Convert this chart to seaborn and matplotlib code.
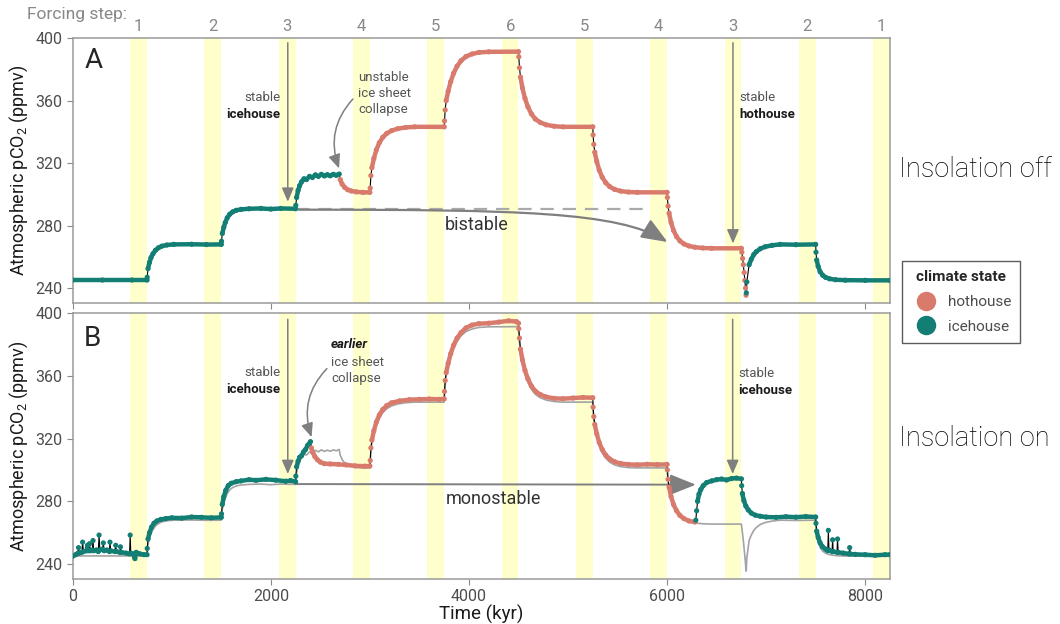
import numpy as np
import pandas as pd
import matplotlib.pyplot as plt
from matplotlib.lines import Line2D
from matplotlib.patches import FancyArrowPatch
from matplotlib.path import Path
import seaborn as sns

sns.set_style("white")
plt.rcParams['font.family'] = ['Roboto', 'DejaVu Sans']
plt.rcParams['mathtext.fontset'] = 'custom'
plt.rcParams['mathtext.rm'] = 'Roboto'

HOT = "#D97B6C"
ICE = "#137E74"
BAND = "#FFFFCC"
GREY = "#7F7F7F"

# forcing steps (end of each step, kyr) and labels
step_ends = [750, 1500, 2250, 3000, 3750, 4500, 5250, 6000, 6750, 7500, 8250]
step_labels = ['1', '2', '3', '4', '5', '6', '5', '4', '3', '2', '1']
band_width = 170

# panel A: insolation off
a_time = [0, 300, 600, 750, 752, 760, 775, 790, 810, 835, 865, 900, 950, 1020, 1200, 1350, 1500,
          1502, 1510, 1525, 1540, 1560, 1585, 1615, 1650, 1700, 1780, 1900, 2000, 2100, 2250,
          2252, 2260, 2275, 2290, 2310, 2335, 2360, 2390, 2420, 2450, 2480, 2510, 2540, 2570, 2600, 2630, 2660, 2690,
          2700, 2720, 2745, 2775, 2810, 2860, 2930, 3000,
          3003, 3010, 3020, 3040, 3065, 3095, 3130, 3170, 3220, 3280, 3360, 3450, 3750,
          3753, 3760, 3770, 3790, 3815, 3845, 3880, 3920, 3970, 4030, 4100, 4200, 4500,
          4503, 4510, 4520, 4540, 4565, 4595, 4630, 4670, 4720, 4780, 4860, 4950, 5250,
          5253, 5260, 5270, 5290, 5315, 5345, 5380, 5420, 5470, 5530, 5610, 5700, 6000,
          6003, 6010, 6020, 6040, 6065, 6095, 6130, 6170, 6220, 6280, 6360, 6450, 6750,
          6755, 6762, 6770, 6778, 6785, 6792, 6797,
          6800, 6805, 6828, 6850, 6875, 6900, 6940, 6990, 7060, 7140, 7300, 7500,
          7503, 7510, 7525, 7545, 7570, 7600, 7640, 7700, 7800, 8000, 8250]
a_co2 = [245.2, 245.2, 245.2, 245.2, 247.0, 252.5, 256.5, 259.5, 262.0, 264.2, 265.8, 266.9, 267.6, 268.0, 268.1, 267.9, 268.0,
         270.0, 275.0, 279.0, 282.0, 285.0, 287.3, 288.8, 289.8, 290.4, 290.8, 291.0, 290.6, 291.0, 290.8,
         293.0, 298.0, 302.5, 305.5, 308.0, 310.0, 309.5, 311.5, 310.8, 312.5, 311.5, 312.8, 311.8, 312.6, 311.9, 312.8, 312.2, 313.0,
         309.5, 306.5, 304.5, 303.0, 302.2, 301.6, 301.3, 301.3,
         304.0, 312.0, 317.0, 323.0, 328.5, 333.0, 336.5, 339.0, 340.8, 342.0, 342.8, 343.2, 343.2,
         347.0, 354.0, 360.0, 366.0, 372.0, 377.5, 382.0, 385.5, 388.2, 389.8, 390.8, 391.2, 391.3,
         388.0, 381.0, 375.0, 368.0, 361.5, 356.0, 351.5, 348.2, 346.0, 344.5, 343.6, 343.2, 343.2,
         338.0, 332.0, 327.0, 321.0, 315.5, 311.0, 307.5, 305.0, 303.2, 302.1, 301.5, 301.3, 301.3,
         298.0, 292.5, 288.0, 282.0, 277.0, 273.0, 270.2, 268.3, 267.0, 266.2, 265.7, 265.5, 265.5,
         263.0, 259.0, 255.0, 250.0, 245.0, 240.0, 235.5,
         237.0, 244.0, 255.0, 258.5, 261.5, 263.3, 265.2, 266.5, 267.4, 268.0, 267.8, 268.0,
         263.0, 258.0, 254.0, 250.5, 248.3, 246.9, 246.0, 245.4, 245.1, 245.0, 245.0]
a_collapse, a_regrowth = 2690, 6800

# panel B: insolation on
b_time = [0, 30, 50, 59, 66, 92, 100, 108, 140, 150, 158, 170, 178, 198, 205, 212, 240, 258, 266, 274,
          300, 309, 317, 345, 370, 376, 384, 425, 434, 442, 475, 482, 490, 540, 574, 580, 586, 610, 628, 640,
          680, 720, 750,
          752, 760, 775, 795, 820, 850, 890, 940, 1000, 1100, 1200, 1300, 1400, 1500,
          1502, 1510, 1525, 1545, 1570, 1600, 1650, 1700, 1780, 1850, 1950, 2050, 2150, 2200, 2250,
          2252, 2260, 2275, 2290, 2310, 2330, 2350, 2370, 2385, 2400,
          2410, 2425, 2445, 2470, 2500, 2540, 2600, 2680, 2760, 2850, 2950, 3000,
          3003, 3010, 3020, 3040, 3065, 3095, 3130, 3170, 3220, 3300, 3400, 3500, 3600, 3700, 3750,
          3753, 3760, 3770, 3790, 3815, 3845, 3880, 3920, 3970, 4030, 4100, 4200, 4300, 4400, 4480, 4500,
          4503, 4510, 4520, 4540, 4565, 4595, 4630, 4670, 4720, 4780, 4860, 4950, 5050, 5150, 5250,
          5253, 5260, 5270, 5290, 5315, 5345, 5380, 5420, 5470, 5530, 5610, 5700, 5800, 5900, 6000,
          6003, 6010, 6020, 6040, 6065, 6095, 6130, 6170, 6220, 6280,
          6290, 6298, 6308, 6322, 6340, 6365, 6400, 6450, 6500, 6550, 6600, 6650, 6700, 6750,
          6753, 6760, 6775, 6795, 6820, 6850, 6890, 6940, 7000, 7100, 7200, 7300, 7400, 7500,
          7503, 7510, 7525, 7545, 7570, 7600, 7622, 7628, 7634, 7665, 7671, 7677, 7715, 7721, 7727,
          7780, 7837, 7843, 7849, 7900, 8000, 8100, 8200, 8250]
b_co2 = [245.0, 246.0, 246.8, 250.5, 247.0, 247.5, 254.0, 248.0, 248.5, 252.0, 248.5, 253.0, 248.5, 249.0, 255.0, 248.5, 249.0, 248.0, 258.5, 249.0,
         249.5, 253.5, 248.5, 249.0, 248.0, 254.0, 248.5, 248.0, 252.0, 248.0, 247.5, 251.0, 247.5, 247.0, 246.5, 258.5, 247.0, 246.5, 243.5, 247.5,
         246.5, 246.0, 246.0,
         250.0, 256.0, 260.0, 263.5, 266.0, 267.5, 268.5, 269.0, 269.5, 269.3, 270.0, 269.8, 269.5, 269.8,
         272.0, 278.0, 283.0, 287.0, 290.0, 291.5, 292.5, 293.0, 293.8, 293.4, 294.0, 293.5, 292.8, 293.2, 292.5,
         296.0, 302.0, 305.5, 308.0, 309.0, 311.5, 313.0, 315.5, 316.5, 318.0,
         314.0, 311.0, 308.5, 306.5, 305.0, 304.0, 303.8, 303.6, 303.2, 302.6, 302.4, 302.5,
         306.0, 314.0, 319.0, 325.0, 330.5, 335.0, 338.5, 341.0, 342.8, 344.0, 344.8, 345.0, 345.2, 345.0, 345.3,
         350.0, 357.0, 362.0, 368.0, 374.0, 379.5, 384.0, 387.5, 390.5, 392.3, 393.2, 393.5, 394.2, 395.0, 394.5, 393.5,
         390.0, 384.0, 377.0, 370.0, 363.5, 358.0, 353.5, 350.2, 348.0, 346.5, 345.6, 345.4, 345.8, 346.2, 346.0,
         340.0, 334.0, 329.0, 323.0, 317.5, 313.0, 309.5, 307.0, 305.2, 304.1, 303.5, 303.3, 303.6, 303.4, 303.5,
         300.0, 294.0, 289.0, 283.0, 278.0, 274.0, 271.0, 269.0, 267.5, 266.8,
         268.0, 274.0, 280.0, 284.5, 287.5, 290.0, 292.0, 293.0, 293.8, 294.2, 293.6, 294.5, 294.8, 294.3,
         290.0, 285.0, 280.5, 277.0, 274.5, 272.5, 271.2, 270.5, 270.0, 269.8, 270.2, 269.9, 270.3, 270.0,
         266.0, 261.0, 257.0, 253.5, 251.0, 249.5, 248.5, 261.5, 249.0, 248.0, 255.5, 248.0, 247.5, 256.0, 247.5,
         247.0, 246.5, 250.5, 246.5, 246.2, 246.0, 245.6, 246.0, 246.0]
b_collapse, b_regrowth = 2400, 6290


def make_df(time, co2, collapse, regrowth):
    df = pd.DataFrame({'time': time, 'co2': co2})
    ice = (df['time'] <= collapse) | (df['time'] >= regrowth)
    df['state'] = np.where(ice, 'icehouse', 'hothouse')
    return df


dfA = make_df(a_time, a_co2, a_collapse, a_regrowth)
dfB = make_df(b_time, b_co2, b_collapse, b_regrowth)
palette = {'hothouse': HOT, 'icehouse': ICE}


def draw_series(ax, df):
    t = df['time'].values
    y = df['co2'].values
    st = df['state'].values
    ax.plot(t, y, color='black', lw=0.8, zorder=3)
    # thick coloured runs, broken at state changes and steep jumps
    run = [0]
    for i in range(1, len(t)):
        steep = abs(y[i] - y[i - 1]) / (t[i] - t[i - 1]) > 0.35
        if st[i] != st[i - 1] or steep:
            if len(run) > 1:
                ax.plot(t[run], y[run], color=palette[st[run[0]]], lw=3.2,
                        solid_capstyle='round', zorder=4)
            run = [i]
        else:
            run.append(i)
    if len(run) > 1:
        ax.plot(t[run], y[run], color=palette[st[run[0]]], lw=3.2, zorder=4)
    sns.scatterplot(data=df, x='time', y='co2', hue='state', palette=palette,
                    s=14, linewidth=0, legend=False, ax=ax, zorder=5)


def style_axis(ax):
    for end in step_ends:
        ax.axvspan(end - band_width, end, color=BAND, lw=0, zorder=0)
    ax.set_xlim(0, 8250)
    ax.set_ylim(230.5, 400)
    ax.set_yticks([240, 280, 320, 360, 400])
    ax.set_xticks([0, 2000, 4000, 6000, 8000])
    for s in ax.spines.values():
        s.set_color('#9A9A9A')
        s.set_linewidth(1.1)
    ax.tick_params(axis='both', which='both', bottom=True, left=True, length=4,
                   color='#8A8A8A', labelsize=11.5, labelcolor='#4D4D4D')
    ax.set_ylabel('Atmospheric pCO$_2$ (ppmv)', fontsize=13, color='#1A1A1A', labelpad=4)


def vert_arrow(ax, x, y0, y1):
    ax.annotate('', xy=(x, y1), xytext=(x, y0),
                arrowprops=dict(arrowstyle='-|>,head_length=0.7,head_width=0.3',
                                color=GREY, lw=1.1, mutation_scale=12, shrinkA=0, shrinkB=0),
                zorder=6)


def two_line(ax, x, y_top, y_bot, top, bottom, ha):
    ax.text(x, y_top, top, ha=ha, va='center', fontsize=9.5, color='#555555')
    ax.text(x, y_bot, bottom, ha=ha, va='center', fontsize=9.5, color='#1A1A1A', weight='bold')


fig = plt.figure(figsize=(10.6, 6.24), dpi=100)
axA = fig.add_axes([0.0686, 0.5144, 0.7710, 0.4246])
axB = fig.add_axes([0.0686, 0.0721, 0.7710, 0.4263])

# ---- panel A
style_axis(axA)
axA.set_xticklabels([])
axA.set_xlabel('')
draw_series(axA, dfA)
axA.plot([2250, 5840], [290.8, 290.8], ls=(0, (6, 4)), color='#AAAAAA', lw=1.6, zorder=2)
bistable_path = Path([(2280, 290.2), (4500, 290.2), (5500, 289.0), (6005, 269.5)],
                     [Path.MOVETO, Path.CURVE4, Path.CURVE4, Path.CURVE4])
axA.add_patch(FancyArrowPatch(path=bistable_path, transform=axA.transData,
                              arrowstyle='-|>,head_length=0.8,head_width=0.32',
                              mutation_scale=20, color=GREY, lw=1.6, zorder=6))
axA.text(4075, 280.5, 'bistable', ha='center', va='center', fontsize=13, color='#333333')
vert_arrow(axA, 2171, 397, 295.3)
two_line(axA, 2098, 361.8, 351.2, 'stable', 'icehouse', 'right')
vert_arrow(axA, 6665, 397, 268.6)
two_line(axA, 6727, 361.8, 351.2, 'stable', 'hothouse', 'left')
axA.text(2879, 364.6, 'unstable\nice sheet\ncollapse', ha='left', va='center',
         fontsize=9.5, color='#555555', linespacing=1.3)
axA.annotate('', xy=(2689, 316.6), xytext=(2828, 361),
             arrowprops=dict(arrowstyle='-|>,head_length=0.7,head_width=0.3', color=GREY,
                             lw=1.1, mutation_scale=12, shrinkA=0, shrinkB=0,
                             connectionstyle='arc3,rad=0.3'), zorder=6)
axA.text(0.014, 0.917, 'A', transform=axA.transAxes, fontsize=20, ha='left', va='center')
for end, lab in zip(step_ends, step_labels):
    axA.text(end - band_width / 2, 1.042, lab, transform=axA.get_xaxis_transform(),
             ha='center', va='center', fontsize=12, color='#888888')
fig.text(27 / 1060, 1 - 15 / 624, 'Forcing step:', ha='left', va='center',
         fontsize=12.5, color='#888888')

# ---- panel B
style_axis(axB)
sns.lineplot(data=dfA, x='time', y='co2', estimator=None, sort=False, color='#A3A3A3',
             lw=1.2, ax=axB, zorder=2)
draw_series(axB, dfB)
axB.set_ylabel('Atmospheric pCO$_2$ (ppmv)', fontsize=13, color='#1A1A1A', labelpad=4)
axB.set_xlabel('Time (kyr)', fontsize=13.5, color='#1A1A1A', labelpad=0)
axB.annotate('', xy=(6290, 290.6), xytext=(2250, 291),
             arrowprops=dict(arrowstyle='-|>,head_length=0.8,head_width=0.32', color=GREY,
                             lw=1.4, mutation_scale=20, shrinkA=0, shrinkB=0), zorder=2.5)
axB.text(4243, 281.6, 'monostable', ha='center', va='center', fontsize=13, color='#333333')
vert_arrow(axB, 2171, 396, 297.4)
two_line(axB, 2098, 361.8, 351.2, 'stable', 'icehouse', 'right')
vert_arrow(axB, 6662, 396, 297.4)
two_line(axB, 6720, 361.2, 350.5, 'stable', 'icehouse', 'left')
axB.text(2609, 380, 'earlier', ha='left', va='center', fontsize=9.5, color='#1A1A1A',
         style='italic', weight='bold')
axB.text(2609, 363.5, 'ice sheet\ncollapse', ha='left', va='center', fontsize=9.5,
         color='#555555', linespacing=1.3)
axB.annotate('', xy=(2411, 320.9), xytext=(2566, 364.6),
             arrowprops=dict(arrowstyle='-|>,head_length=0.7,head_width=0.3', color=GREY,
                             lw=1.1, mutation_scale=12, shrinkA=0, shrinkB=0,
                             connectionstyle='arc3,rad=0.3'), zorder=6)
axB.text(0.014, 0.906, 'B', transform=axB.transAxes, fontsize=20, ha='left', va='center')

# ---- right side labels and legend
fig.text(899 / 1060, 1 - 170 / 624, 'Insolation off', fontsize=19.5, fontweight='light',
         ha='left', va='center', color='#000000')
fig.text(899 / 1060, 1 - 439 / 624, 'Insolation on', fontsize=19.5, fontweight='light',
         ha='left', va='center', color='#000000')
handles = [Line2D([], [], marker='o', ls='', markersize=13, color=HOT, label='hothouse'),
           Line2D([], [], marker='o', ls='', markersize=13, color=ICE, label='icehouse')]
leg = fig.legend(handles=handles, title='climate state', loc='upper left',
                 bbox_to_anchor=(902 / 1060, 1 - 261 / 624), frameon=True, fancybox=False,
                 edgecolor='#333333', fontsize=11, title_fontsize=11, borderpad=0.6,
                 handletextpad=0.4, labelspacing=0.7, borderaxespad=0)
leg.get_title().set_fontweight('bold')
leg.get_frame().set_linewidth(1.0)
for txt in leg.get_texts():
    txt.set_color('#4D4D4D')

fig.savefig('out.png', dpi=100)
